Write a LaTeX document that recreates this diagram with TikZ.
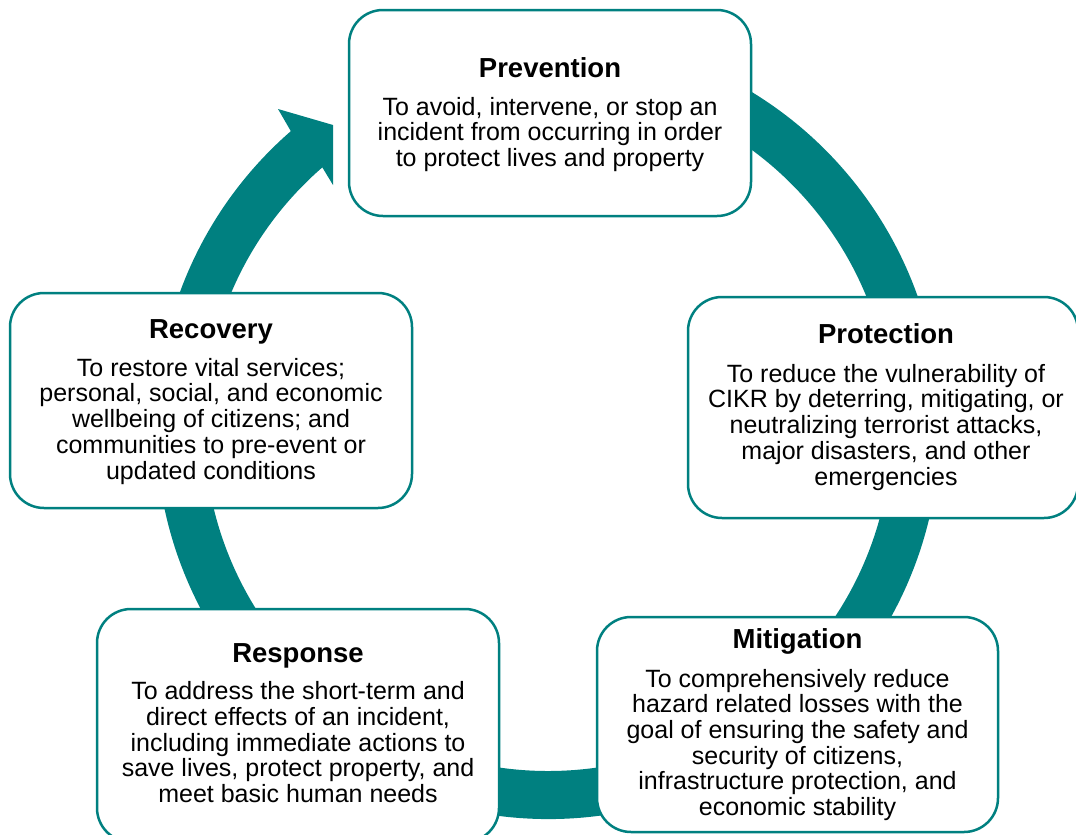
\documentclass[tikz,border=0pt]{standalone}
\usepackage{fontspec}
\setmainfont{Liberation Sans}
\usetikzlibrary{calc}
\definecolor{ringteal}{HTML}{008080}
\begin{document}
\begin{tikzpicture}[x=1pt,y=-1pt,
  box/.style={draw=ringteal, line width=2.5pt, fill=white, rounded corners=34pt, inner sep=0pt},
  ttl/.style={font=\bfseries\fontsize{27.5}{30}\selectfont, anchor=base, inner sep=0pt},
  bdy/.style={font=\fontsize{25}{25.7}\selectfont, align=center, anchor=base, inner sep=0pt}]
\path[use as bounding box] (0,0) rectangle (1076,835);
\coordinate (c) at (548,427);
\coordinate (h1) at (278,109);
\coordinate (h2) at (333,125);
\coordinate (h3) at (333,185);
\fill[ringteal] ($(c)+(-80:392)$) arc[start angle=-80, end angle=229, radius=392]
  -- (h1) -- (h2) -- (h3) -- ($(c)+(229:344)$)
  arc[start angle=229, end angle=-80, radius=344] -- cycle;
% boxes
\node[box, minimum width=402pt, minimum height=206pt] (prev) at (550,113) {};
\node[box, minimum width=390pt, minimum height=221pt] (prot) at (883,407.5) {};
\node[box, minimum width=401pt, minimum height=215pt] (miti) at (797.5,724.5) {};
\node[box, minimum width=402pt, minimum height=233pt] (resp) at (298,725.5) {};
\node[box, minimum width=402pt, minimum height=215pt] (reco) at (211,400.5) {};
% texts (body anchor = baseline of last line)
\node[ttl] (prevT) at (550,77) {Prevention};
\node[bdy] (prevB) at (550,166.4) {To avoid, intervene, or stop an\\incident from occurring in order\\to protect lives and property};
\node[ttl] (protT) at (886,343) {Protection};
\node[bdy] (protB) at (886,485) {To reduce the vulnerability of\\CIKR by deterring, mitigating, or\\neutralizing terrorist attacks,\\major disasters, and other\\emergencies};
\node[ttl] (recoT) at (211,338) {Recovery};
\node[bdy] (recoB) at (211,479) {To restore vital services;\\personal, social, and economic\\wellbeing of citizens; and\\communities to pre-event or\\updated conditions};
\node[ttl] (respT) at (298,662) {Response};
\node[bdy] (respB) at (298,802.5) {To address the short-term and\\direct effects of an incident,\\including immediate actions to\\save lives, protect property, and\\meet basic human needs};
\node[ttl] (mitiT) at (797.5,648) {Mitigation};
\node[bdy] (mitiB) at (797.5,815.5) {To comprehensively reduce\\hazard related losses with the\\goal of ensuring the safety and\\security of citizens,\\infrastructure protection, and\\economic stability};
\end{tikzpicture}
\end{document}
